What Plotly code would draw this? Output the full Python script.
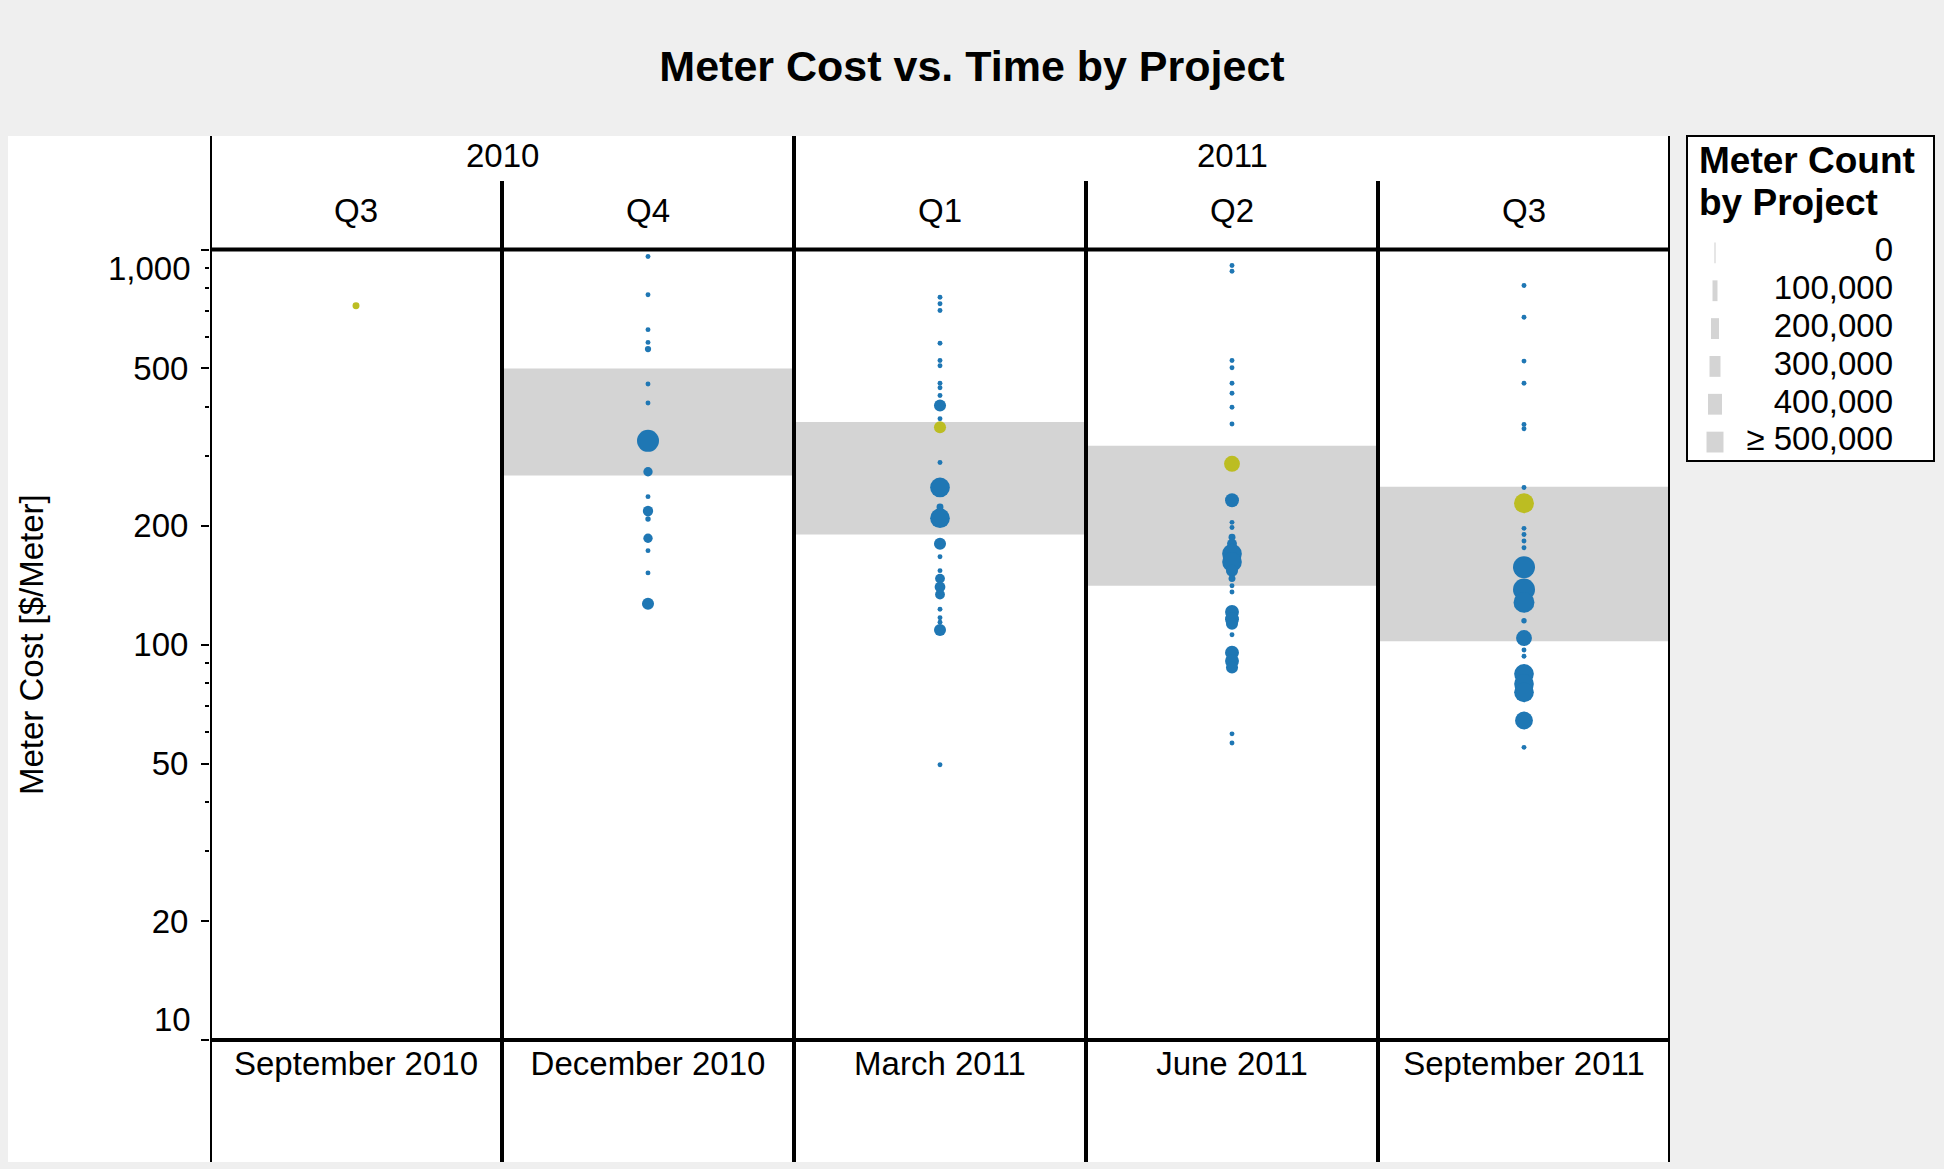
import math
import plotly.graph_objects as go

W, H = 1944, 1169

# ---------------- data ----------------
months = ["September 2010", "December 2010", "March 2011", "June 2011", "September 2011"]
years = ["2010", "2010", "2011", "2011", "2011"]
quarters = ["Q3", "Q4", "Q1", "Q2", "Q3"]

# reference band (low / high meter cost) per quarter; None = no band
band_low = [None, 268, 190, 141, 102]
band_high = [None, 500, 366, 319, 251]

# projects: meter cost [$/meter] and meter count, per quarter
cost_dec2010 = [960, 768, 627, 582, 560, 457, 409, 328, 274, 237, 218, 208, 186, 173, 152, 127]
count_dec2010 = [25000, 25000, 25000, 25000, 40000, 25000, 25000, 500000, 90000, 25000, 110000, 30000, 90000, 25000, 25000, 150000]

cost_mar2011 = [757, 729, 701, 579, 524, 508, 459, 447, 427, 403, 373, 289, 250, 223, 209, 180,
                167, 154, 147, 140, 134, 123, 117, 114, 109, 49.7]
count_mar2011 = [25000, 25000, 25000, 25000, 25000, 25000, 25000, 25000, 25000, 150000, 25000, 25000,
                 400000, 50000, 400000, 150000, 25000, 25000, 100000, 120000, 100000, 25000, 25000,
                 25000, 150000, 25000]

cost_jun2011 = [911, 881, 524, 502, 459, 433, 399, 362, 232, 204, 198, 187, 180, 170, 162, 154,
                147, 141, 136, 121, 116, 113, 106, 95.5, 91, 87.6, 59.5, 56.4]
count_jun2011 = [25000, 25000, 25000, 25000, 25000, 25000, 25000, 25000, 200000, 25000, 25000, 50000,
                 100000, 400000, 400000, 150000, 50000, 25000, 25000, 200000, 200000, 150000, 25000,
                 200000, 200000, 150000, 25000, 25000]

cost_sep2011 = [811, 674, 522, 459, 361, 352, 250, 197, 190, 183, 176, 157, 138, 128, 115, 104,
                97, 93.5, 84.4, 79.6, 75.8, 64.3, 55]
count_sep2011 = [25000, 25000, 25000, 25000, 25000, 25000, 25000, 25000, 25000, 25000, 25000, 500000,
                 500000, 450000, 30000, 260000, 25000, 25000, 400000, 400000, 400000, 330000, 25000]

# highlighted project (one per quarter)
highlight_cost = [721, None, 355, 287, 228]
highlight_count = [50000, None, 150000, 260000, 410000]

# size legend
legend_labels = ["0", "100,000", "200,000", "300,000", "400,000", "\u2265 500,000"]
legend_counts = [0, 100000, 200000, 300000, 400000, 500000]

y_ticks = [10, 20, 50, 100, 200, 500, 1000]
y_minor = [30, 40, 60, 70, 80, 90, 300, 400, 600, 700, 800, 900]

# ---------------- style ----------------
FONT = "Arial, Liberation Sans, sans-serif"
FS = 33
BLUE = "#1f77b4"
OLIVE = "#bcbd22"
BAND = "#d4d4d4"
MAX_COUNT = 500000
MAX_D = 22


def px(x):
    return x / W


def py(y):
    return 1 - y / H


def diam(c):
    return MAX_D * math.sqrt(min(c, MAX_COUNT) / MAX_COUNT)


fig = go.Figure()

# bands
bx, bbase, bh = [], [], []
for m, lo, hi in zip(months, band_low, band_high):
    if lo is not None:
        bx.append(m)
        bbase.append(lo)
        bh.append(hi - lo)
fig.add_trace(go.Bar(x=bx, y=bh, base=bbase, width=1.0, marker=dict(color=BAND, line=dict(width=0)),
                     hoverinfo="skip", showlegend=False))

# blue projects
per_q = [(months[1], cost_dec2010, count_dec2010), (months[2], cost_mar2011, count_mar2011),
         (months[3], cost_jun2011, count_jun2011), (months[4], cost_sep2011, count_sep2011)]
xs, ys, ss = [], [], []
for m, cs, ns in per_q:
    for c, n in zip(cs, ns):
        xs.append(m)
        ys.append(c)
        ss.append(diam(n))
fig.add_trace(go.Scatter(x=xs, y=ys, mode="markers", showlegend=False,
                         marker=dict(color=BLUE, size=ss, opacity=1, line=dict(width=0))))

hx, hy, hs = [], [], []
for m, c, n in zip(months, highlight_cost, highlight_count):
    if c is not None:
        hx.append(m)
        hy.append(c)
        hs.append(diam(n))
fig.add_trace(go.Scatter(x=hx, y=hy, mode="markers", showlegend=False,
                         marker=dict(color=OLIVE, size=hs, opacity=1, line=dict(width=0))))

# size legend (separate axes)
rows = list(range(len(legend_labels)))
lw = [2 + 15 * c / MAX_COUNT for c in legend_counts]
lcol = ["#e6e6e6"] + ["#d4d4d4"] * (len(legend_counts) - 1)
fig.add_trace(go.Bar(y=rows, x=lw, base=[15 - w / 2 for w in lw], orientation="h", width=0.55,
                     marker=dict(color=lcol, line=dict(width=0)), xaxis="x2", yaxis="y2",
                     hoverinfo="skip", showlegend=False))
fig.add_trace(go.Scatter(y=rows, x=[193] * len(rows), mode="text", text=legend_labels,
                         textposition="middle left", textfont=dict(size=FS, color="black", family=FONT),
                         xaxis="x2", yaxis="y2", hoverinfo="skip", showlegend=False))

LINE = dict(color="black", width=4)
shapes = []
# background panels
shapes.append(dict(type="rect", xref="paper", yref="paper", x0=px(8), x1=px(1670), y0=py(1162), y1=py(136),
                   fillcolor="white", line=dict(width=0), layer="below"))
shapes.append(dict(type="rect", xref="paper", yref="paper", x0=px(1687), x1=px(1934), y0=py(461), y1=py(136),
                   fillcolor="white", line=dict(color="black", width=2), layer="below"))
# column separators
n = len(months)
for k in range(n + 1):
    year_break = k == 0 or k == n or years[k] != years[k - 1]
    shapes.append(dict(type="line", xref="x", yref="paper", x0=k - 0.5, x1=k - 0.5,
                       y0=py(1162), y1=py(136 if year_break else 181), line=LINE, layer="above"))
# top / bottom of plot area
for yd in (0, 1):
    shapes.append(dict(type="line", xref="x", yref="y domain", x0=-0.5, x1=n - 0.5, y0=yd, y1=yd,
                       line=LINE, layer="above"))

ann = []
# year headers
for yv in sorted(set(years)):
    idx = [i for i, v in enumerate(years) if v == yv]
    ann.append(dict(text=yv, x=sum(idx) / len(idx), xref="x", y=py(155), yref="paper", showarrow=False,
                    font=dict(size=FS, family=FONT, color="black"), xanchor="center", yanchor="middle"))
for i, q in enumerate(quarters):
    ann.append(dict(text=q, x=i, xref="x", y=py(211), yref="paper", showarrow=False,
                    font=dict(size=FS, family=FONT, color="black"), xanchor="center", yanchor="middle"))
# end tick labels kept inside the axis range
ann.append(dict(text="1,000", x=px(193), xref="paper", y=math.log10(y_ticks[-1]), yref="y", yshift=-19,
                showarrow=False, xanchor="right", yanchor="middle", font=dict(size=FS, family=FONT, color="black")))
ann.append(dict(text="10", x=px(193), xref="paper", y=math.log10(y_ticks[0]), yref="y", yshift=21,
                showarrow=False, xanchor="right", yanchor="middle", font=dict(size=FS, family=FONT, color="black")))
# y title
ann.append(dict(text="Meter Cost [$/Meter]", x=px(31), xref="paper", y=py(645), yref="paper", textangle=-90,
                showarrow=False, xanchor="center", yanchor="middle", font=dict(size=FS, family=FONT, color="black")))
# legend title
ann.append(dict(text="<b>Meter Count</b>", x=px(1697), xref="paper", y=py(161), yref="paper", showarrow=False,
                xanchor="left", yanchor="middle", font=dict(size=37, family=FONT, color="black")))
ann.append(dict(text="<b>by Project</b>", x=px(1697), xref="paper", y=py(202), yref="paper", showarrow=False,
                xanchor="left", yanchor="middle", font=dict(size=37, family=FONT, color="black")))

ticktext = [("" if v in (y_ticks[0], y_ticks[-1]) else f"{v:,}") for v in y_ticks]

fig.update_layout(
    width=W, height=H,
    margin=dict(l=0, r=0, t=0, b=0),
    paper_bgcolor="#efefef",
    plot_bgcolor="rgba(0,0,0,0)",
    font=dict(family=FONT, size=FS, color="black"),
    title=dict(text="<b>Meter Cost vs. Time by Project</b>", x=0.5, xanchor="center", xref="paper",
               y=py(66), yanchor="middle", font=dict(size=43, family=FONT, color="black")),
    barmode="overlay",
    showlegend=False,
    xaxis=dict(domain=[px(210), px(1670)], type="category", categoryorder="array", categoryarray=months,
               range=[-0.5, n - 0.5], showgrid=False, zeroline=False, showline=False, ticks="",
               tickfont=dict(size=FS, family=FONT, color="black"), ticklabelstandoff=1, fixedrange=True),
    yaxis=dict(domain=[py(1040), py(249.5)], type="log", range=[1, 3], showgrid=False, zeroline=False,
               showline=False, tickvals=y_ticks, ticktext=ticktext, ticks="outside", ticklen=8, tickwidth=2,
               tickcolor="black", tickfont=dict(size=FS, family=FONT, color="black"), ticklabelstandoff=6,
               minor=dict(tickvals=y_minor, ticks="outside", ticklen=4, tickwidth=1.5, tickcolor="black"),
               fixedrange=True),
    xaxis2=dict(domain=[px(1700), px(1900)], range=[0, 200], visible=False, fixedrange=True),
    yaxis2=dict(domain=[py(461), py(234)], range=[5.5, -0.5], visible=False, fixedrange=True, anchor="x2"),
    shapes=shapes,
    annotations=ann,
)

fig.write_html("out.html", config={"displayModeBar": False},
               post_script="document.body.style.margin='0px';")
